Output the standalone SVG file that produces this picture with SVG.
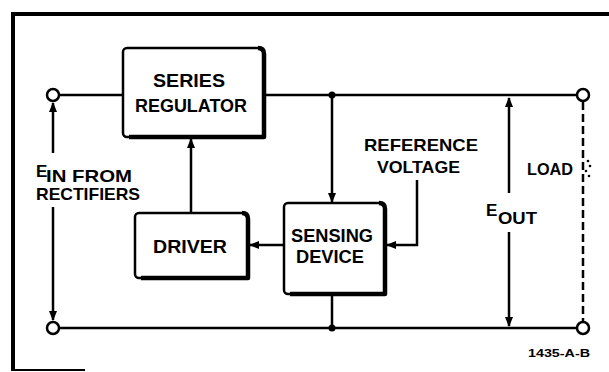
<svg xmlns="http://www.w3.org/2000/svg" width="609" height="372" viewBox="0 0 609 372">
<style>
.w{fill:none;stroke:#000;stroke-width:2.5}
.box{fill:#fff;stroke:#000;stroke-width:2.5}
.sh{fill:none;stroke:#000;stroke-width:4.5;stroke-linejoin:round}
.t{font-family:"Liberation Sans",Arial,sans-serif;font-weight:bold;fill:#000}
.bl{font-size:19px}
.lb{font-size:17px}
.term{fill:#fff;stroke:#000;stroke-width:2.5}
</style>
<defs>
<marker id="ah" viewBox="0 0 10 8" refX="9" refY="4" markerWidth="4" markerHeight="3.2" orient="auto" markerUnits="strokeWidth">
<path d="M0,0 L10,4 L0,8 Z" fill="#000"/>
</marker>
</defs>
<rect width="609" height="372" fill="#fff"/>
<g id="border">
<path d="M609,14 H13 V371" fill="none" stroke="#000" stroke-width="4"/>
<path d="M13,370 H85" fill="none" stroke="#000" stroke-width="2"/>
</g>
<g id="connectors">
<path class="w" d="M59,95 H123"/>
<path class="w" d="M264,95 H577"/>
<path class="w" d="M59,328 H577"/>
<path class="w" d="M53,153 V103" marker-end="url(#ah)"/>
<path class="w" d="M53,207 V320" marker-end="url(#ah)"/>
<path class="w" d="M509,193 V98" marker-end="url(#ah)"/>
<path class="w" d="M509,232 V326" marker-end="url(#ah)"/>
<path class="w" d="M332,95 V202" marker-end="url(#ah)"/>
<path class="w" d="M332,294 V328"/>
<path class="w" d="M191,213 V139" marker-end="url(#ah)"/>
<path class="w" d="M284,245 H250" marker-end="url(#ah)"/>
<path class="w" d="M417,180 V245 H387" marker-end="url(#ah)"/>
<path d="M583,102 V322" fill="none" stroke="#000" stroke-width="2.5" stroke-dasharray="8,4"/>
<circle cx="332" cy="95" r="3.5"/>
<circle cx="332" cy="328" r="3.5"/>
<circle cx="588" cy="161" r="1.3"/>
<circle cx="590" cy="166" r="1.3"/>
<circle cx="586" cy="171" r="1.3"/>
<circle cx="589" cy="176" r="1.3"/>
</g>
<g id="terminals">
<circle class="term" cx="53" cy="95" r="6"/>
<circle class="term" cx="583" cy="95" r="6"/>
<circle class="term" cx="53" cy="328" r="6"/>
<circle class="term" cx="583" cy="328" r="6"/>
</g>
<g id="series-regulator">
<rect class="box" x="123" y="48" width="141" height="89" rx="4"/>
<path class="sh" d="M258,48 Q264,48 264,54 V137 H129"/>
<text class="t bl" x="189" y="87" text-anchor="middle" textLength="72" lengthAdjust="spacingAndGlyphs">SERIES</text>
<text class="t bl" x="191" y="112" text-anchor="middle" textLength="112" lengthAdjust="spacingAndGlyphs">REGULATOR</text>
</g>
<g id="driver">
<rect class="box" x="135" y="213" width="113" height="65" rx="4"/>
<path class="sh" d="M242,213 Q248,213 248,219 V278 H141"/>
<text class="t bl" x="190" y="253" text-anchor="middle" textLength="74" lengthAdjust="spacingAndGlyphs">DRIVER</text>
</g>
<g id="sensing-device">
<rect class="box" x="284" y="203" width="101" height="91" rx="4"/>
<path class="sh" d="M379,203 Q385,203 385,209 V294 H290"/>
<text class="t bl" x="332" y="242" text-anchor="middle" textLength="82" lengthAdjust="spacingAndGlyphs">SENSING</text>
<text class="t bl" x="330" y="263" text-anchor="middle" textLength="68" lengthAdjust="spacingAndGlyphs">DEVICE</text>
</g>
<g id="labels">
<text class="t lb" x="36" y="177">E</text>
<text class="t lb" x="46" y="182" textLength="86" lengthAdjust="spacingAndGlyphs">IN FROM</text>
<text class="t lb" x="36" y="200" textLength="104" lengthAdjust="spacingAndGlyphs">RECTIFIERS</text>
<text class="t lb" x="364" y="151" textLength="114" lengthAdjust="spacingAndGlyphs">REFERENCE</text>
<text class="t lb" x="377" y="173" textLength="83" lengthAdjust="spacingAndGlyphs">VOLTAGE</text>
<text class="t lb" x="527" y="175" textLength="46" lengthAdjust="spacingAndGlyphs">LOAD</text>
<text class="t lb" x="486" y="216">E</text>
<text class="t lb" x="498" y="224" textLength="39" lengthAdjust="spacingAndGlyphs">OUT</text>
<text class="t" x="528" y="357" font-size="10" textLength="62" lengthAdjust="spacingAndGlyphs">1435-A-B</text>
</g>
</svg>
